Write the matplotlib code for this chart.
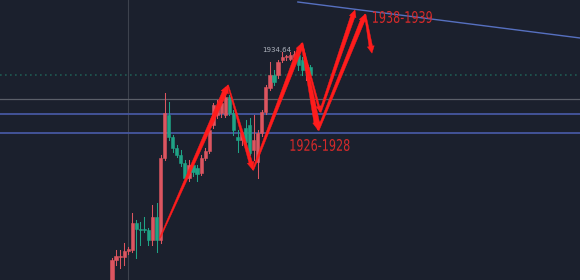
import matplotlib
matplotlib.use("Agg")
import matplotlib.pyplot as plt
import numpy as np
from matplotlib.patches import Polygon, Rectangle, PathPatch
from matplotlib.transforms import IdentityTransform, Affine2D
from matplotlib.textpath import TextPath
from matplotlib.font_manager import FontProperties

# candle data (OHLC), one bar per index
opens = [1910.32, 1912.63, 1912.95, 1912.95, 1913.58, 1913.68, 1916.53, 1915.89, 1915.85, 1915.79,
         1914.74, 1917.16, 1914.74, 1923.37, 1927.89, 1925.58, 1924.42, 1923.68, 1922.84, 1921.26,
         1922.63, 1922.32, 1921.79, 1923.37, 1924.11, 1926.84, 1927.89, 1928.11, 1927.89, 1929.79,
         1928.11, 1925.58, 1925.26, 1926.53, 1926.84, 1924.21, 1922.95, 1926.00, 1928.21, 1930.74,
         1932.11, 1932.11, 1933.68, 1934.00, 1933.79, 1934.00, 1934.21, 1933.68, 1932.63, 1932.95]
highs = [1912.84, 1913.68, 1913.68, 1914.42, 1914.00, 1917.58, 1916.84, 1916.63, 1917.16, 1916.00,
         1918.42, 1918.63, 1923.68, 1930.21, 1929.26, 1925.79, 1924.74, 1924.21, 1923.16, 1923.16,
         1922.95, 1922.63, 1923.68, 1924.42, 1926.63, 1929.16, 1929.47, 1929.47, 1930.84, 1930.00,
         1928.42, 1926.32, 1926.21, 1927.37, 1927.58, 1927.89, 1926.32, 1928.42, 1931.05, 1933.47,
         1932.63, 1933.68, 1934.53, 1934.21, 1934.53, 1934.64, 1934.53, 1934.00, 1933.37, 1933.16]
lows = [1910.00, 1912.11, 1911.79, 1912.11, 1913.26, 1913.47, 1912.84, 1914.21, 1915.58, 1914.21,
        1914.21, 1913.47, 1914.42, 1923.16, 1925.26, 1924.00, 1923.47, 1922.53, 1920.95, 1920.95,
        1921.47, 1920.95, 1921.58, 1923.16, 1923.89, 1926.53, 1927.58, 1927.68, 1927.68, 1927.89,
        1925.79, 1924.00, 1924.74, 1924.74, 1923.68, 1923.16, 1921.26, 1925.68, 1928.00, 1930.53,
        1931.05, 1931.79, 1933.47, 1933.68, 1933.68, 1933.80, 1932.63, 1932.11, 1931.58, 1931.79]
closes = [1912.63, 1913.05, 1913.00, 1913.58, 1913.79, 1916.53, 1915.89, 1915.79, 1915.75, 1914.74,
          1917.16, 1914.74, 1923.37, 1928.11, 1925.58, 1924.42, 1923.68, 1922.84, 1921.26, 1922.63,
          1921.89, 1921.68, 1923.37, 1924.11, 1926.32, 1928.95, 1928.74, 1929.16, 1929.79, 1928.11,
          1926.32, 1925.26, 1926.00, 1925.05, 1923.89, 1925.26, 1926.00, 1928.21, 1930.84, 1932.11,
          1931.37, 1933.47, 1934.00, 1934.05, 1934.21, 1934.30, 1933.16, 1932.63, 1933.16, 1932.11]

# horizontal levels
zone_levels = [1928.0, 1926.0]
gray_level = 1929.58
dotted_level = 1932.11
vline_bar = 3.95
high_label = "1934.64"
high_value = 1934.74

# trend line (bar, price)
trend_x = [45.9, 115.6]
trend_y = [1939.79, 1936.0]

# hand drawn arrows: (from bar, from price, to bar, to price)
arrow_pts = [
    (11.85, 1914.95, 28.64, 1931.05),
    (28.64, 1931.05, 34.8, 1922.1),
    (34.8, 1922.1, 46.9, 1935.47),
    (46.9, 1935.47, 50.9, 1926.3),
    (46.9, 1935.47, 51.4, 1928.2),
    (51.4, 1928.2, 60.0, 1938.95),
    (50.9, 1926.3, 62.5, 1938.5),
    (62.5, 1938.5, 64.2, 1934.4),
]
# tail width, shaft width, head width, head length (pixels)
arrow_sizes = [
    (1.0, 5.0, 8.0, 8.0),
    (1.0, 3.5, 7.0, 8.0),
    (1.5, 5.0, 7.0, 7.0),
    (2.0, 5.5, 8.0, 8.0),
    (1.0, 2.0, 5.0, 6.0),
    (2.0, 4.5, 7.0, 7.0),
    (2.0, 4.5, 7.0, 7.0),
    (1.5, 3.5, 7.0, 7.0),
]
zone_text = "1926-1928"
zone_text_pos = (51.36, 1924.74)
target_text = "1938-1939"
target_text_pos = (64.44, 1938.21)

BG = "#1b202d"
UP = "#dd5560"
DOWN = "#1fa386"
ARROW = "#ff1c1c"
TXT_RED = "#d42a2a"

fig = plt.figure(figsize=(5.8, 2.8), dpi=100, facecolor=BG)
ax = fig.add_axes([0, 0, 1, 1], facecolor=BG)
ax.set_xlim(-27.65, 115.56)
ax.set_ylim(1910.53, 1940.0)
ax.axis("off")

# levels
ax.axvline(vline_bar, color="#3d424d", lw=0.8, zorder=1)
ax.axhline(dotted_level, color="#1f5a52", lw=1.2, ls=(0, (1, 2)), zorder=1)
ax.axhline(gray_level, color="#5b5f69", lw=0.9, zorder=1)
for lv in zone_levels:
    ax.axhline(lv, color="#4657a0", lw=1.3, zorder=1)
ax.plot(trend_x, trend_y, color="#5670c0", lw=1.0, zorder=1)

# candles
bw = 0.78
for i, (o, h, l, c) in enumerate(zip(opens, highs, lows, closes)):
    col = UP if c >= o else DOWN
    ax.plot([i, i], [l, h], color=col, lw=0.75, zorder=2)
    bottom = min(o, c)
    height = max(abs(c - o), 0.08)
    ax.add_patch(Rectangle((i - bw / 2, bottom), bw, height, facecolor=col,
                           edgecolor=col, lw=0.4, zorder=3))

ax.text(44.3, high_value, high_label, color="#aeb3bd", fontsize=5.0,
        ha="right", va="center", zorder=4)

# arrows drawn in pixel space so widths stay fixed
fig.canvas.draw()
for (x0, y0, x1, y1), (wt, ws, hw, hl) in zip(arrow_pts, arrow_sizes):
    p0 = ax.transData.transform((x0, y0))
    p1 = ax.transData.transform((x1, y1))
    d = p1 - p0
    d = d / np.hypot(*d)
    n = np.array([-d[1], d[0]])
    base = p1 - d * hl
    pts = [p0 + n * wt / 2, base + n * ws / 2, base + n * hw / 2, p1,
           base - n * hw / 2, base - n * ws / 2, p0 - n * wt / 2]
    ax.add_patch(Polygon(pts, closed=True, facecolor=ARROW, edgecolor=ARROW,
                         lw=0.3, transform=IdentityTransform(), zorder=5))


def narrow_text(s, pos, w_px, h_px, ha):
    # condensed label: text path squeezed to the measured box
    tp = TextPath((0, 0), s, size=12, prop=FontProperties(family="DejaVu Sans"))
    ext = tp.get_extents()
    ax_, ay_ = ax.transData.transform(pos)
    dx = ext.x0 + (ext.width / 2 if ha == "center" else 0)
    tr = (Affine2D().translate(-dx, -(ext.y0 + ext.height / 2))
          .scale(w_px / ext.width, h_px / ext.height).translate(ax_, ay_))
    ax.add_patch(PathPatch(tp, facecolor=TXT_RED, edgecolor="none",
                           transform=tr, zorder=6))


narrow_text(zone_text, zone_text_pos, 59, 12, "center")
narrow_text(target_text, target_text_pos, 59, 12, "left")

fig.savefig("out.png", dpi=100, facecolor=BG)
